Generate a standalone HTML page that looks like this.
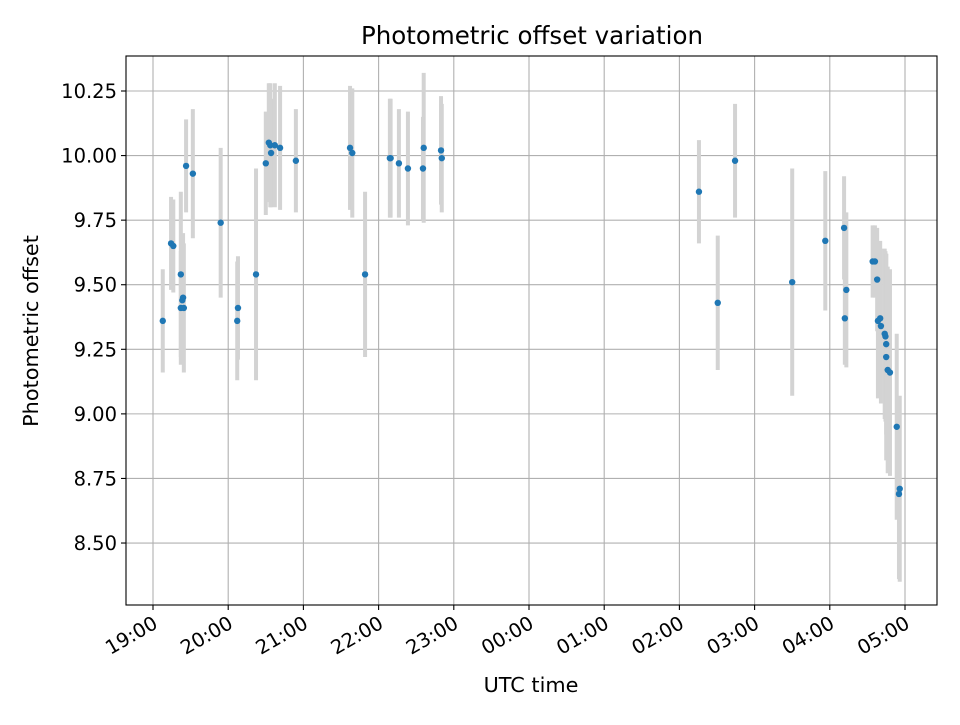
<!DOCTYPE html>
<html><head><meta charset="utf-8"><style>
body{margin:0;background:#fff}
svg text{font-family:"DejaVu Sans","Liberation Sans",sans-serif;fill:#000}
</style></head><body>
<svg id="c" width="960" height="720" xmlns="http://www.w3.org/2000/svg">
<rect width="960" height="720" fill="#fff"/>
<text x="532" y="44" font-size="24.5" text-anchor="middle">Photometric offset variation</text>
<text x="531" y="692" font-size="20.8" text-anchor="middle">UTC time</text>
<text transform="translate(38,331) rotate(-90)" font-size="20.8" text-anchor="middle">Photometric offset</text>
<g id="grid"></g><g id="bars"></g><g id="pts"></g><g id="axes"></g>
</svg>
<script>
// hours since 19:00 UTC
const times=[0.13,0.24,0.27,0.37,0.37,0.39,0.40,0.41,0.44,0.53,0.90,1.12,1.13,1.37,1.50,1.54,1.56,1.57,1.62,1.69,1.90,2.62,2.65,2.82,3.15,3.16,3.27,3.39,3.60,3.59,3.83,3.84,7.26,7.51,7.74,8.50,8.94,9.19,9.22,9.20,9.57,9.60,9.63,9.67,9.68,9.64,9.75,9.73,9.74,9.75,9.77,9.80,9.89,9.93,9.92];
const offsets=[9.36,9.66,9.65,9.54,9.41,9.44,9.45,9.41,9.96,9.93,9.74,9.36,9.41,9.54,9.97,10.05,10.04,10.01,10.04,10.03,9.98,10.03,10.01,9.54,9.99,9.99,9.97,9.95,10.03,9.95,10.02,9.99,9.86,9.43,9.98,9.51,9.67,9.72,9.48,9.37,9.59,9.59,9.52,9.37,9.34,9.36,9.27,9.31,9.30,9.22,9.17,9.16,8.95,8.71,8.69];
const errors=[0.20,0.18,0.18,0.32,0.22,0.22,0.25,0.25,0.18,0.25,0.29,0.23,0.20,0.41,0.20,0.23,0.24,0.21,0.24,0.24,0.20,0.24,0.25,0.32,0.23,0.23,0.21,0.22,0.29,0.20,0.21,0.21,0.20,0.26,0.22,0.44,0.27,0.20,0.30,0.18,0.14,0.14,0.20,0.30,0.30,0.30,0.35,0.33,0.33,0.40,0.40,0.40,0.36,0.36,0.33];
const xTickLabels=["19:00","20:00","21:00","22:00","23:00","00:00","01:00","02:00","03:00","04:00","05:00"];
const yTicks=[8.50,8.75,9.00,9.25,9.50,9.75,10.00,10.25];
const L=126,R=937,T=56,B=605;
const X=h=>153+h*75.2;
const Y=v=>91+(10.25-v)*258.3;
const NS="http://www.w3.org/2000/svg";
function mk(tag,attrs,parent){const e=document.createElementNS(NS,tag);for(const k in attrs)e.setAttribute(k,attrs[k]);parent.appendChild(e);return e;}
const grid=document.getElementById('grid'),bars=document.getElementById('bars'),pts=document.getElementById('pts'),axes=document.getElementById('axes');
xTickLabels.forEach((lab,i)=>{
  const x=X(i);
  const g=mk('line',{x1:x,x2:x,y1:T,y2:B,stroke:'#b0b0b0','stroke-width':1.1},grid);
  
  
  const t=mk('line',{x1:x,x2:x,y1:B,y2:B+5,stroke:'#000','stroke-width':1.1},axes);
  
  
  const tx=mk('text',{x:0,y:0,'font-size':19.5,'text-anchor':'end',transform:`translate(${x+6},${B+22}) rotate(-30)`},axes);
  tx.textContent=lab;
  
  
});
yTicks.forEach(v=>{
  const y=Y(v);
  const g=mk('line',{x1:L,x2:R,y1:y,y2:y,stroke:'#b0b0b0','stroke-width':1.1},grid);
  
  
  const t=mk('line',{x1:L-5,x2:L,y1:y,y2:y,stroke:'#000','stroke-width':1.1},axes);
  
  
  const tx=mk('text',{x:L-9,y:y+7,'font-size':19.5,'text-anchor':'end'},axes);
  tx.textContent=v.toFixed(2);
  
  
});
times.forEach((h,i)=>{
  const x=X(h);
  const b=mk('line',{x1:x,x2:x,y1:Y(offsets[i]+errors[i]),y2:Y(offsets[i]-errors[i]),stroke:'#d3d3d3','stroke-width':4},bars);
  
  
});
times.forEach((h,i)=>{
  const p=mk('circle',{cx:X(h),cy:Y(offsets[i]),r:3.2,fill:'#1f77b4'},pts);
  
  
});
const f=mk('rect',{x:L,y:T,width:R-L,height:B-T,fill:'none',stroke:'#000','stroke-width':1.1},axes);


</script>
</body></html>
